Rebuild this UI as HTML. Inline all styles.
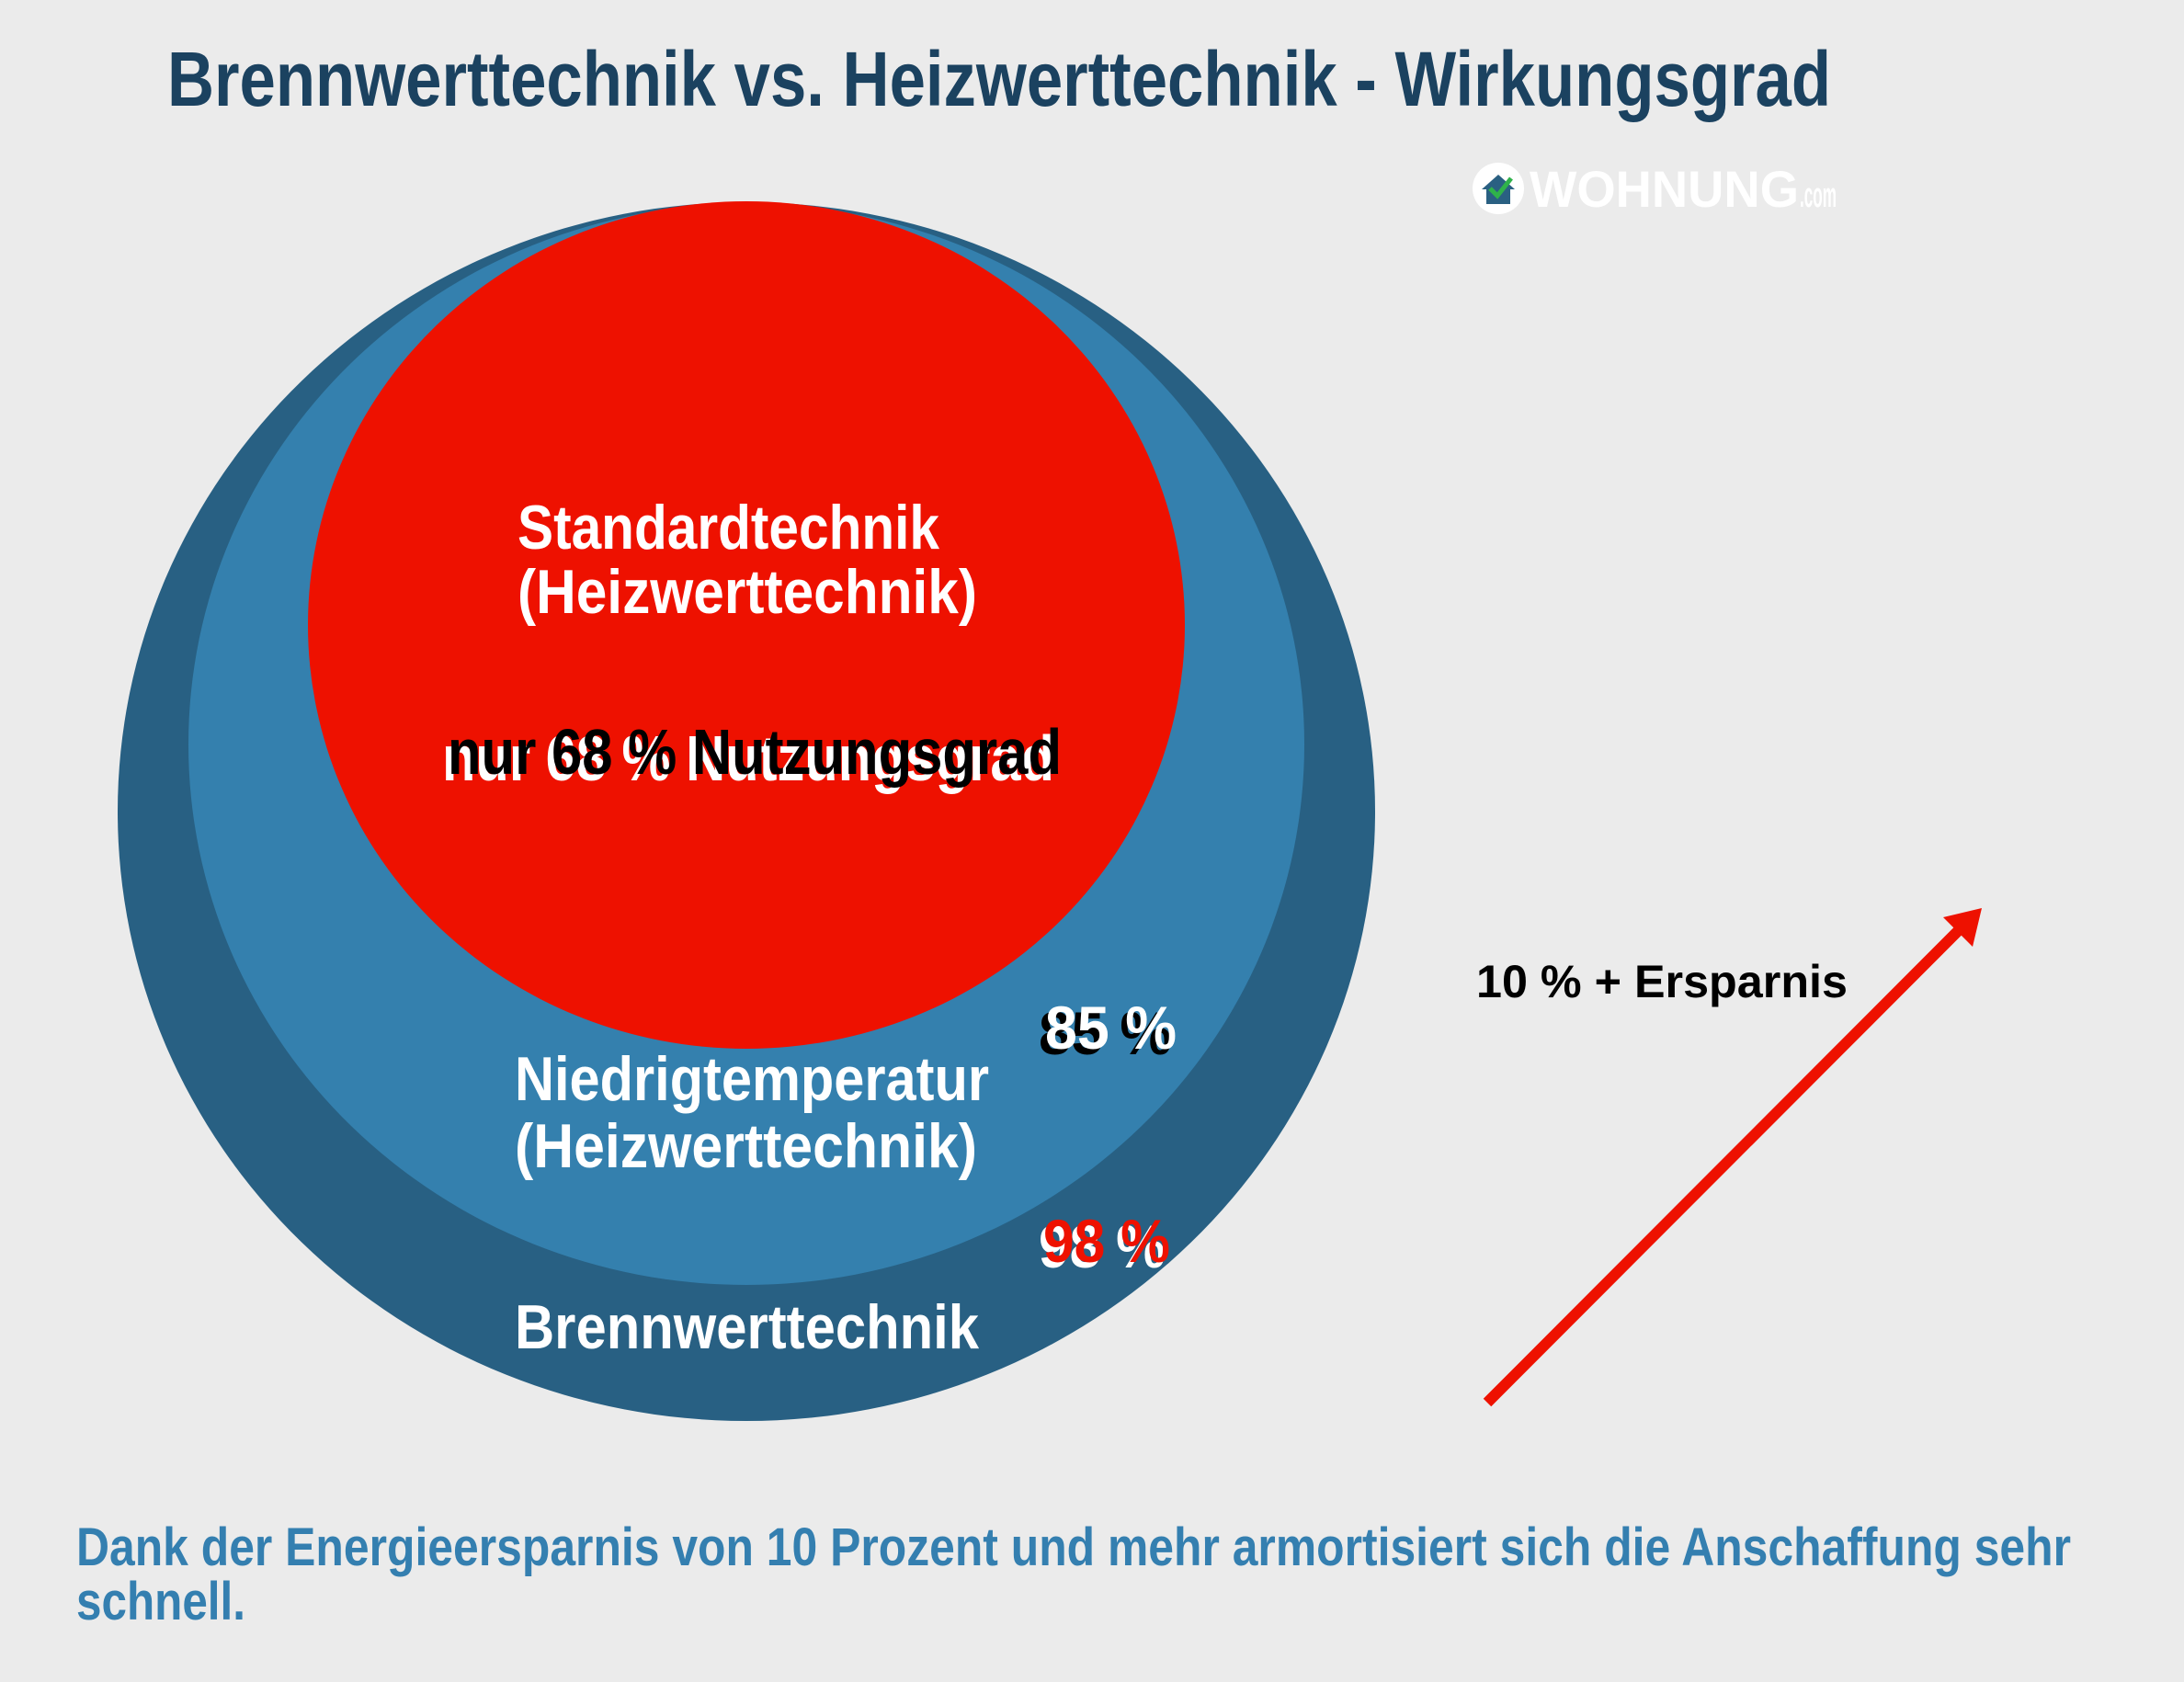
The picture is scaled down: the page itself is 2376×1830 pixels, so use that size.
<!DOCTYPE html>
<html><head><meta charset="utf-8"><style>
html,body{margin:0;padding:0;background:#ebebeb;}
svg{display:block;}
text{font-family:"Liberation Sans",sans-serif;font-weight:bold;}
</style></head><body>
<svg width="2376" height="1830" viewBox="0 0 2376 1830" xmlns="http://www.w3.org/2000/svg">
<rect width="2376" height="1830" fill="#ebebeb"/>
<text x="182" y="115" font-size="84" fill="#1b4260" textLength="1810" lengthAdjust="spacingAndGlyphs">Brennwerttechnik vs. Heizwerttechnik - Wirkungsgrad</text>
<!-- logo -->
<circle cx="1630" cy="205" r="28" fill="#fff"/>
<path d="M1612 206 L1630 190 L1648 206 L1643 206 L1643 222 L1617 222 L1617 206 Z" fill="#2a6082"/>
<path d="M1621 205 L1629 213 L1644 194" stroke="#2fb24a" stroke-width="5" fill="none"/>
<text x="1664" y="225" font-size="56" fill="#fff" textLength="293" lengthAdjust="spacingAndGlyphs">WOHNUNG</text>
<text x="1958" y="225" font-size="38" fill="#fff" textLength="40" lengthAdjust="spacingAndGlyphs">.com</text>
<!-- circles -->
<ellipse cx="812" cy="883" rx="684" ry="663" fill="#286083"/>
<ellipse cx="812" cy="810" rx="607" ry="588" fill="#3480ae"/>
<ellipse cx="812" cy="680" rx="477" ry="461" fill="#ee1100"/>
<g fill="#fff" font-size="68">
<text x="563" y="597" textLength="459" lengthAdjust="spacingAndGlyphs">Standardtechnik</text>
<text x="563" y="667" textLength="500" lengthAdjust="spacingAndGlyphs">(Heizwerttechnik)</text>
<text x="560" y="1197" textLength="516" lengthAdjust="spacingAndGlyphs">Niedrigtemperatur</text>
<text x="560" y="1270" textLength="503" lengthAdjust="spacingAndGlyphs">(Heizwerttechnik)</text>
<text x="560" y="1467" textLength="505" lengthAdjust="spacingAndGlyphs">Brennwerttechnik</text>
</g>
<text x="481" y="849" font-size="70" fill="#fff" textLength="666" lengthAdjust="spacingAndGlyphs">nur 68 % Nutzungsgrad</text>
<text x="487" y="842" font-size="70" fill="#000" textLength="668" lengthAdjust="spacingAndGlyphs">nur 68 % Nutzungsgrad</text>
<text x="1130" y="1147" font-size="66" fill="#000" textLength="145" lengthAdjust="spacingAndGlyphs">85 %</text>
<text x="1137" y="1141" font-size="66" fill="#fff" textLength="143" lengthAdjust="spacingAndGlyphs">85 %</text>
<text x="1130" y="1379" font-size="66" fill="#fff" textLength="138" lengthAdjust="spacingAndGlyphs">98 %</text>
<text x="1135" y="1373" font-size="66" fill="#ee1100" textLength="138" lengthAdjust="spacingAndGlyphs">98 %</text>
<text x="1606" y="1085" font-size="50" fill="#000" textLength="404" lengthAdjust="spacingAndGlyphs">10 % + Ersparnis</text>
<!-- arrow -->
<line x1="1618" y1="1526" x2="2135" y2="1008" stroke="#ee1100" stroke-width="12"/>
<polygon points="2156,988 2146,1030 2114,998" fill="#ee1100"/>
<g fill="#347fb0" font-size="58">
<text x="83" y="1703" textLength="2170" lengthAdjust="spacingAndGlyphs">Dank der Energieersparnis von 10 Prozent und mehr armortisiert sich die Anschaffung sehr</text>
<text x="83" y="1762" textLength="184" lengthAdjust="spacingAndGlyphs">schnell.</text>
</g>
</svg>
</body></html>
